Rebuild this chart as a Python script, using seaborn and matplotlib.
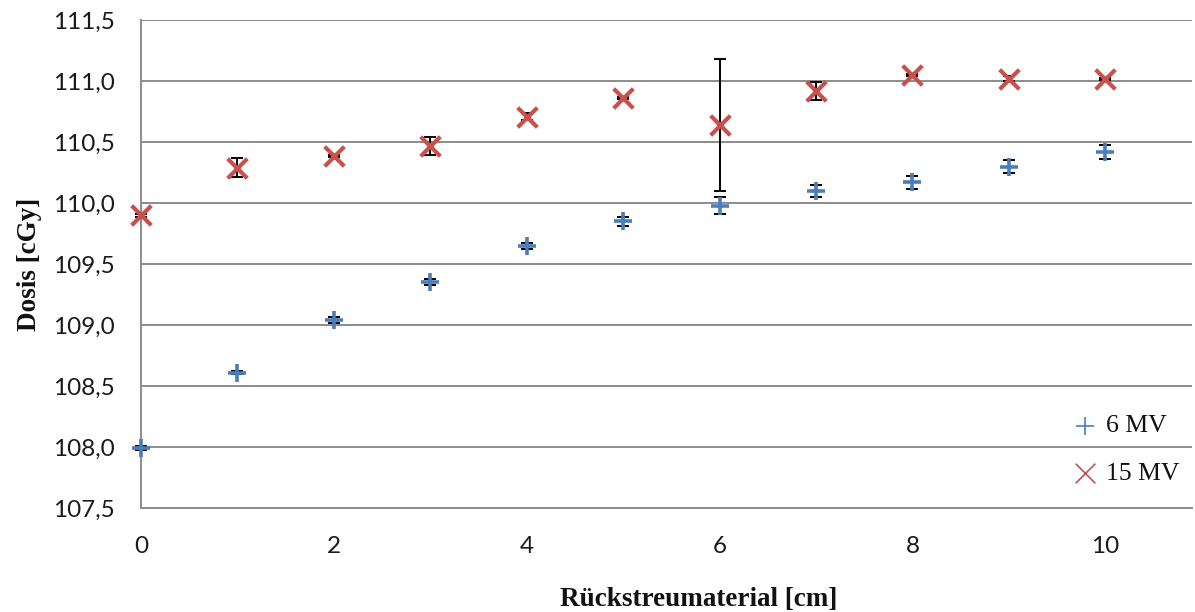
import matplotlib
matplotlib.use("Agg")
import matplotlib.pyplot as plt
import seaborn as sns
import pandas as pd

# Backscatter material thickness [cm]
thickness = [0, 1, 2, 3, 4, 5, 6, 7, 8, 9, 10]

# Measured dose [cGy] and standard deviation for both photon energies
dose_6mv = [107.99, 108.61, 109.04, 109.35, 109.65, 109.85, 109.98, 110.10, 110.17, 110.30, 110.42]
err_6mv = [0.015, 0.015, 0.025, 0.025, 0.025, 0.04, 0.07, 0.05, 0.055, 0.055, 0.055]
dose_15mv = [109.90, 110.29, 110.385, 110.47, 110.71, 110.86, 110.64, 110.92, 111.05, 111.02, 111.02]
err_15mv = [0.01, 0.08, 0.01, 0.075, 0.03, 0.01, 0.54, 0.075, 0.01, 0.02, 0.01]

series_labels = ["6 MV", "15 MV"]

x_ticks = [0, 2, 4, 6, 8, 10]
x_tick_labels = ["0", "2", "4", "6", "8", "10"]
y_ticks = [107.5, 108.0, 108.5, 109.0, 109.5, 110.0, 110.5, 111.0, 111.5]
y_tick_labels = ["107,5", "108,0", "108,5", "109,0", "109,5", "110,0", "110,5", "111,0", "111,5"]

BLUE = "#4A7EBB"
RED = "#C8504D"
GRID = "#8C8C8C"

sns.set_theme(style="white")
plt.rcParams["font.family"] = ["Lato", "DejaVu Sans"]

df6 = pd.DataFrame({"x": thickness, "y": dose_6mv})
df15 = pd.DataFrame({"x": thickness, "y": dose_15mv})

fig, ax = plt.subplots(figsize=(11.95, 6.12), dpi=100)
fig.subplots_adjust(left=0.118, right=0.9975, top=0.967, bottom=0.170)

# Error bars sit underneath the markers
ax.errorbar(thickness, dose_6mv, yerr=err_6mv, fmt="none", ecolor="black",
            elinewidth=1.4, capsize=4.3, capthick=1.4, zorder=2.5, clip_on=False)
ax.errorbar(thickness, dose_15mv, yerr=err_15mv, fmt="none", ecolor="black",
            elinewidth=1.4, capsize=4.3, capthick=1.4, zorder=2.5, clip_on=False)

sns.scatterplot(data=df6, x="x", y="y", marker="+", color=BLUE, s=180,
                linewidth=2.6, ax=ax, zorder=3, label=series_labels[0],
                clip_on=False)
sns.scatterplot(data=df15, x="x", y="y", marker="x", color=RED, s=200,
                linewidth=3.0, ax=ax, zorder=3, label=series_labels[1],
                clip_on=False)

ax.set_xlim(0, 10.9)
ax.set_ylim(107.5, 111.5)
ax.set_xticks(x_ticks)
ax.set_xticklabels(x_tick_labels)
ax.set_yticks(y_ticks)
ax.set_yticklabels(y_tick_labels)

ax.yaxis.grid(True, color=GRID, linewidth=1.4)
ax.xaxis.grid(False)
ax.set_axisbelow(True)

for side in ["top", "right"]:
    ax.spines[side].set_visible(False)
for side in ["left", "bottom"]:
    ax.spines[side].set_color(GRID)
    ax.spines[side].set_linewidth(1.4)

ax.tick_params(axis="both", which="major", direction="out", length=6,
               width=1.2, color=GRID, labelsize=17.5, labelcolor="#1a1a1a")
ax.tick_params(axis="y", pad=13)
ax.tick_params(axis="x", pad=14)

serif_bold = dict(family=["Liberation Serif", "DejaVu Serif"], weight="bold",
                  size=19.5, color="#111111")
ax.set_xlabel("Rückstreumaterial [cm]", **serif_bold)
ax.set_ylabel("Dosis [cGy]", **serif_bold)
ax.xaxis.set_label_coords(0.5 * (555 + 842) / 1051 - 141 / 1051, -0.163)
ax.yaxis.set_label_coords(-0.094, 0.5)

leg = ax.legend(loc="lower right", bbox_to_anchor=(1.01, 0.0), frameon=False,
                prop=dict(family=["Liberation Serif", "DejaVu Serif"], size=18.5),
                handlelength=0.8, handletextpad=0.4, labelspacing=0.95,
                markerscale=1.0)
for h in leg.legend_handles:
    h.set_linewidth(1.2)
for t in leg.get_texts():
    t.set_color("#111111")

fig.savefig("out.png", dpi=100)
